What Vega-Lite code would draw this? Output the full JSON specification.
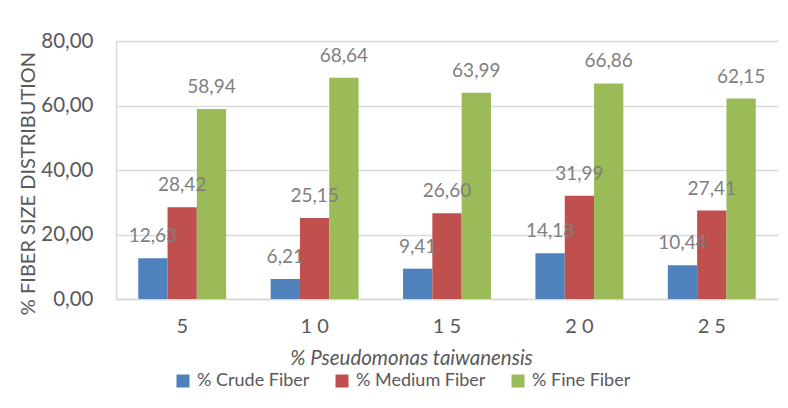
{
  "$schema": "https://vega.github.io/schema/vega-lite/v6.json",
  "width": 662,
  "height": 258,
  "autosize": {"type": "none"},
  "padding": {"left": 116, "top": 41, "right": 10, "bottom": 109},
  "background": "white",
  "config": {
    "locale": {"number": {"decimal": ",", "thousands": ".", "grouping": [3], "currency": ["", " €"]}},
    "font": "Lato",
    "view": {"stroke": null}
  },
  "data": {
    "values": [
      {"pct": "5", "series": "% Crude Fiber", "value": 12.63},
      {"pct": "5", "series": "% Medium Fiber", "value": 28.42},
      {"pct": "5", "series": "% Fine Fiber", "value": 58.94},
      {"pct": "10", "series": "% Crude Fiber", "value": 6.21},
      {"pct": "10", "series": "% Medium Fiber", "value": 25.15},
      {"pct": "10", "series": "% Fine Fiber", "value": 68.64},
      {"pct": "15", "series": "% Crude Fiber", "value": 9.41},
      {"pct": "15", "series": "% Medium Fiber", "value": 26.60},
      {"pct": "15", "series": "% Fine Fiber", "value": 63.99},
      {"pct": "20", "series": "% Crude Fiber", "value": 14.18},
      {"pct": "20", "series": "% Medium Fiber", "value": 31.99},
      {"pct": "20", "series": "% Fine Fiber", "value": 66.86},
      {"pct": "25", "series": "% Crude Fiber", "value": 10.44},
      {"pct": "25", "series": "% Medium Fiber", "value": 27.41},
      {"pct": "25", "series": "% Fine Fiber", "value": 62.15}
    ]
  },
  "encoding": {
    "x": {
      "field": "pct",
      "type": "nominal",
      "sort": ["5", "10", "15", "20", "25"],
      "scale": {"paddingInner": 0.336, "paddingOuter": 0.168},
      "axis": {
        "title": "% Pseudomonas taiwanensis",
        "titleFontStyle": "italic",
        "titleFontWeight": "normal",
        "titleFontSize": 20.5,
        "titleColor": "#595959",
        "titleBaseline": "middle",
        "titleAlign": "center",
        "titleX": 295,
        "titleY": 59,
        "labelAngle": 0,
        "labelFontSize": 20,
        "labelColor": "#595959",
        "labelPadding": 17,
        "labelExpr": "length(datum.label) > 1 ? slice(datum.label, 0, 1) + ' ' + slice(datum.label, 1) : datum.label",
        "ticks": false,
        "domainColor": "#d9d9d9",
        "domainWidth": 1.5
      }
    },
    "xOffset": {
      "field": "series",
      "type": "nominal",
      "sort": ["% Crude Fiber", "% Medium Fiber", "% Fine Fiber"],
      "scale": {"paddingInner": 0, "paddingOuter": 0}
    },
    "y": {
      "field": "value",
      "type": "quantitative",
      "scale": {"domain": [0, 80]},
      "axis": {
        "title": "% FIBER SIZE DISTRIBUTION",
        "titleFontWeight": "normal",
        "titleFontSize": 20,
        "titleColor": "#595959",
        "titleAngle": 270,
        "titleAlign": "center",
        "titleBaseline": "middle",
        "titleX": -88,
        "titleY": 142,
        "values": [0, 20, 40, 60, 80],
        "format": ".2f",
        "labelFontSize": 20.5,
        "labelColor": "#595959",
        "labelPadding": 23,
        "ticks": false,
        "grid": true,
        "gridColor": "#d9d9d9",
        "gridWidth": 1.5,
        "domainColor": "#d9d9d9",
        "domainWidth": 1.5
      }
    }
  },
  "layer": [
    {
      "mark": {"type": "bar"},
      "encoding": {
        "color": {
          "field": "series",
          "type": "nominal",
          "scale": {
            "domain": ["% Crude Fiber", "% Medium Fiber", "% Fine Fiber"],
            "range": ["#4F81BD", "#C0504D", "#9BBB59"]
          },
          "legend": {
            "title": null,
            "orient": "none",
            "direction": "horizontal",
            "legendX": 58,
            "legendY": 331,
            "symbolType": "square",
            "symbolSize": 169,
            "symbolStrokeWidth": 0,
            "labelFontSize": 18,
            "labelColor": "#595959",
            "labelOffset": 5,
            "columnPadding": 23
          }
        }
      }
    },
    {
      "mark": {"type": "text", "baseline": "alphabetic", "dy": -16, "fontSize": 19, "color": "#7f7f7f"},
      "encoding": {
        "text": {"field": "value", "type": "quantitative", "format": ".2f"}
      }
    }
  ]
}
